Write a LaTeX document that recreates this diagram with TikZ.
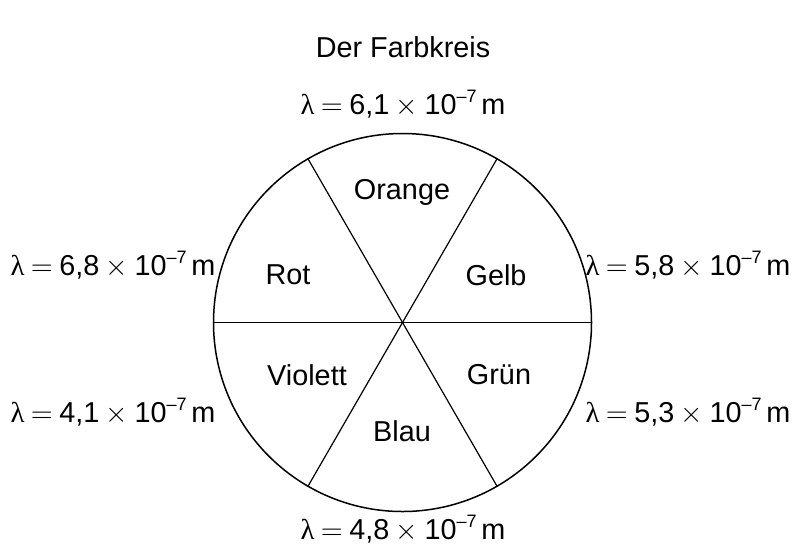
\documentclass[tikz,border=0pt]{standalone}
\usepackage{fontspec}
\setmainfont{Liberation Sans}
\newfontfamily\lamfont{Liberation Serif}
\usetikzlibrary{positioning}
\newcommand{\wavelen}[1]{{\lamfont λ}$\:=\:$#1$\:\times\:$10\raisebox{.75ex}{\fontsize{9}{9}\selectfont –7}\,m}

\begin{document}
\begin{tikzpicture}[
  x=0.5pt,y=-0.5pt,
  every node/.style={font=\fontsize{14.4}{17}\selectfont},
  wheel/.style={draw,circle,line width=.75pt,minimum size=189pt,inner sep=0pt},
  divider/.style={draw,line width=.6pt},
  hue/.style={anchor=center},
  wave/.style={anchor=center}
]
\useasboundingbox (0,0) rectangle (795,547);
\node (title) at (403,47) {Der Farbkreis};
% the colour wheel, split into six sectors of 60 degrees
\node[wheel] (ring) at (402.5,322.5) {};
\draw[divider] (ring.180)--(ring.0);
\draw[divider] (ring.120)--(ring.-60);
\draw[divider] (ring.60)--(ring.-120);
\node[hue] (orange) at (402,192) {Orange};
\node[hue] (rot) at (288,275) {Rot};
\node[hue] (gelb) at (496,275) {Gelb};
\node[hue] (violett) at (307,375) {Violett};
\node[hue] (gruen) at (499,375) {Grün};
\node[hue] (blau) at (402,431) {Blau};
% wavelengths round the rim
\node[wave] (wtop) at (403,104) {\wavelen{6,1}};
\node[wave] (wtl) at (113,265) {\wavelen{6,8}};
\node[wave] (wtr) at (688,265) {\wavelen{5,8}};
\node[wave] (wbl) at (113,412) {\wavelen{4,1}};
\node[wave] (wbr) at (688,412) {\wavelen{5,3}};
\node[wave] (wbot) at (403,529) {\wavelen{4,8}};
\end{tikzpicture}
\end{document}
